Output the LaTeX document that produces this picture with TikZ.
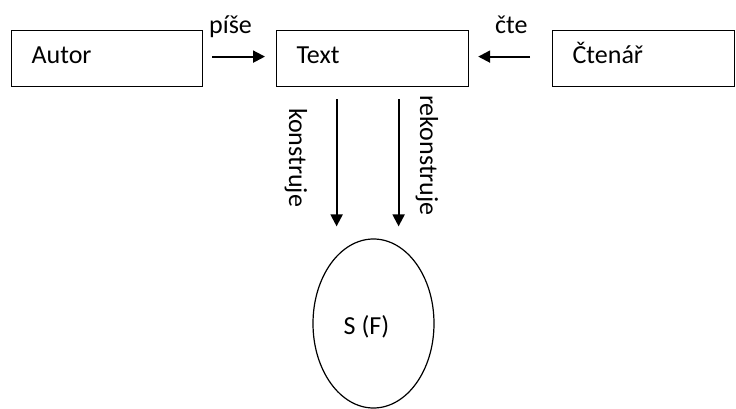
\documentclass[tikz,border=0pt]{standalone}
\usepackage{fontspec}
\setmainfont{Carlito}
\usetikzlibrary{arrows.meta,shapes.geometric}
\tikzset{
  box/.style={draw, line width=1.2pt, anchor=north west, minimum height=56pt, inner xsep=20pt, align=left, text height=18pt, text depth=8pt},
  arr/.style={line width=2pt, -{Triangle[length=12pt,width=12pt]}},
  lbl/.style={anchor=base west, inner sep=0pt}
}
\begin{document}
\begin{tikzpicture}[x=1pt, y=-1pt, font=\fontsize{26}{30}\selectfont]
  \useasboundingbox (0,0) rectangle (736,409);
  \node[box, text width=151pt] (autor) at (11,30) {Autor};
  \node[box, text width=152pt] (text) at (276,30) {Text};
  \node[box, text width=142pt] (ctenar) at (552,30) {Čtenář};
  \node[draw, ellipse, line width=1.2pt, minimum width=121pt, minimum height=169pt] (sf) at (373.5,323.5) {};
  \node (sflabel) at ([xshift=-7pt,yshift=-3pt]sf.center) {S (F)};
  \draw[arr, shorten <=9pt, shorten >=11pt] ([yshift=2pt]autor.east) -- ([yshift=2pt]text.west);
  \draw[arr, shorten <=22pt, shorten >=9pt] ([yshift=2pt]ctenar.west) -- ([yshift=2pt]text.east);
  \draw[arr, shorten <=12pt, shorten >=12pt] ([xshift=-36pt]text.south) -- ([xshift=-36pt]text.south |- sf.north);
  \draw[arr, shorten <=12pt, shorten >=12pt] ([xshift=26pt]text.south) -- ([xshift=26pt]text.south |- sf.north);
  \node[lbl] (pise) at (209,34) {píše};
  \node[lbl] (cte) at (495,34) {čte};
  \node[lbl, rotate=-90] (konstruje) at (289,108) {konstruje};
  \node[lbl, rotate=-90] (rekonstruje) at (420,95) {rekonstruje};
\end{tikzpicture}
\end{document}
